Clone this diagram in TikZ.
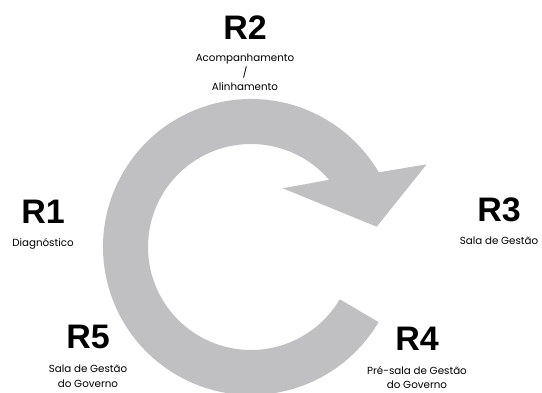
\documentclass[tikz,border=0pt]{standalone}
\usepackage{fontspec}
\setmainfont{Poppins}
\newfontfamily\headfont{Liberation Sans}
\usetikzlibrary{calc,positioning}
\definecolor{loopgray}{RGB}{192,191,193}

\begin{document}
\begin{tikzpicture}[x=1pt,y=1pt,
  stage/.style={font=\headfont\bfseries\fontsize{34}{34}\selectfont,inner sep=0pt},
  stagetext/.style={font=\fontsize{10.3}{14.5}\selectfont,align=center,inner sep=0pt}]

\useasboundingbox (0,0) rectangle (542,392);

% cycle arrow
\coordinate (hub) at (251,145);
\fill[loopgray] ($(hub)+(-30.5:148)$) arc[start angle=-30.5,end angle=-329.7,radius=148]
  -- (426.7,227.7) -- (376.7,165.3) -- (282.7,203.7)
  -- ($(hub)+(40.7:103)$) arc[start angle=-319.3,end angle=-30.5,radius=103] -- cycle;

% stages
\node[stage] (r1) at (43,180) {R1};
\node[stage] (r2) at (245,364) {R2};
\node[stage] (r3) at (499,182) {R3};
\node[stage] (r4) at (417,53) {R4};
\node[stage] (r5) at (88,55) {R5};

\node[stagetext,below=14pt of r1] (r1 text) {Diagnóstico};
\node[stagetext,below=14pt of r2] (r2 text) {Acompanhamento\\/\\Alinhamento};
\node[stagetext,below=14pt of r3] (r3 text) {Sala de Gestão};
\node[stagetext,below=15pt of r4] (r4 text) {Pré-sala de Gestão\\do Governo};
\node[stagetext,below=16pt of r5] (r5 text) {Sala de Gestão\\do Governo};

\end{tikzpicture}
\end{document}
